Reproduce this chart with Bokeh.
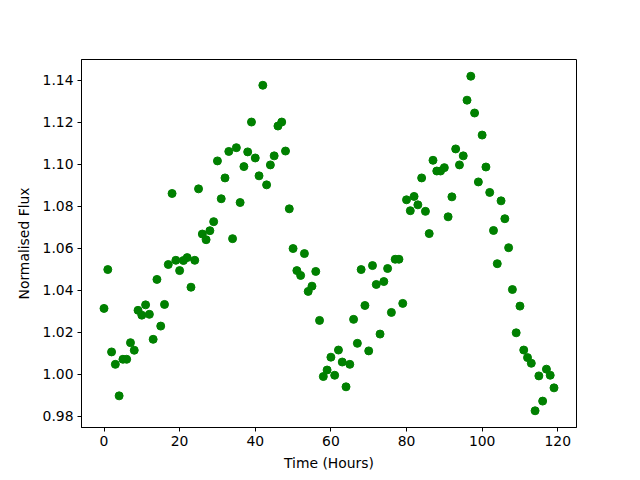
from bokeh.plotting import figure
from bokeh.models import Range1d, FixedTicker, PrintfTickFormatter
from bokeh.embed import file_html
from bokeh.resources import INLINE

hours = list(range(120))
flux = [
    1.0314, 1.0499, 1.0107, 1.0048, 0.9898, 1.0072, 1.0072, 1.0151, 1.0115, 1.0305,
    1.0282, 1.0331, 1.0286, 1.0167, 1.0452, 1.0230, 1.0333, 1.0523, 1.0861, 1.0543,
    1.0494, 1.0542, 1.0556, 1.0415, 1.0543, 1.0883, 1.0668, 1.0641, 1.0684, 1.0727,
    1.1016, 1.0836, 1.0935, 1.1061, 1.0646, 1.1079, 1.0818, 1.0989, 1.1059, 1.1201,
    1.1030, 1.0945, 1.1376, 1.0902, 1.0997, 1.1040, 1.1182, 1.1201, 1.1063, 1.0788,
    1.0599, 1.0494, 1.0471, 1.0575, 1.0395, 1.0420, 1.0490, 1.0257, 0.9990, 1.0021,
    1.0082, 0.9996, 1.0116, 1.0059, 0.9941, 1.0048, 1.0262, 1.0148, 1.0499, 1.0328,
    1.0112, 1.0518, 1.0428, 1.0192, 1.0442, 1.0504, 1.0295, 1.0548, 1.0548, 1.0338,
    1.0831, 1.0779, 1.0847, 1.0807, 1.0935, 1.0776, 1.0670, 1.1019, 1.0968, 1.0968,
    1.0984, 1.0750, 1.0845, 1.1073, 1.0997, 1.1040, 1.1305, 1.1419, 1.1244, 1.0916,
    1.1139, 1.0987, 1.0866, 1.0685, 1.0527, 1.0826, 1.0741, 1.0603, 1.0404, 1.0198,
    1.0325, 1.0116, 1.0080, 1.0053, 0.9827, 0.9993, 0.9873, 1.0025, 0.9996, 0.9936,
]
x_ticks = [0, 20, 40, 60, 80, 100, 120]
y_ticks = [0.98, 1.00, 1.02, 1.04, 1.06, 1.08, 1.10, 1.12, 1.14]
x_label = "Time (Hours)"
y_label = "Normalised Flux"

xpad = 0.05 * (max(hours) - min(hours))
ypad = 0.05 * (max(flux) - min(flux))

p = figure(width=640, height=480, output_backend="svg", toolbar_location=None,
           x_range=Range1d(min(hours) - xpad, max(hours) + xpad),
           y_range=Range1d(min(flux) - ypad, max(flux) + ypad),
           min_border_left=81, min_border_right=64, min_border_top=59, min_border_bottom=53)

p.scatter(hours, flux, size=8.0, color="#008000", line_color="#008000")

p.xgrid.visible = False
p.ygrid.visible = False
p.outline_line_color = "black"
p.outline_line_width = 1
p.background_fill_color = "white"
p.border_fill_color = "white"

font = "DejaVu Sans"
for ax in (p.xaxis[0], p.yaxis[0]):
    ax.axis_line_color = "black"
    ax.major_tick_in = 0
    ax.major_tick_out = 4
    ax.minor_tick_line_color = None
    ax.major_label_text_font = font
    ax.major_label_text_font_size = "13.9px"
    ax.major_label_text_color = "black"
    ax.axis_label_text_font = font
    ax.axis_label_text_font_size = "13.9px"
    ax.axis_label_text_font_style = "normal"
    ax.axis_label_text_color = "black"
    ax.major_label_standoff = 4

p.xaxis[0].ticker = FixedTicker(ticks=x_ticks)
p.xaxis[0].formatter = PrintfTickFormatter(format="%d")
p.yaxis[0].ticker = FixedTicker(ticks=y_ticks)
p.yaxis[0].formatter = PrintfTickFormatter(format="%.2f")
p.xaxis[0].axis_label = x_label
p.yaxis[0].axis_label = y_label
p.xaxis[0].axis_label_standoff = 6
p.yaxis[0].axis_label_standoff = 8

open("out.html", "w").write(file_html(p, INLINE))
